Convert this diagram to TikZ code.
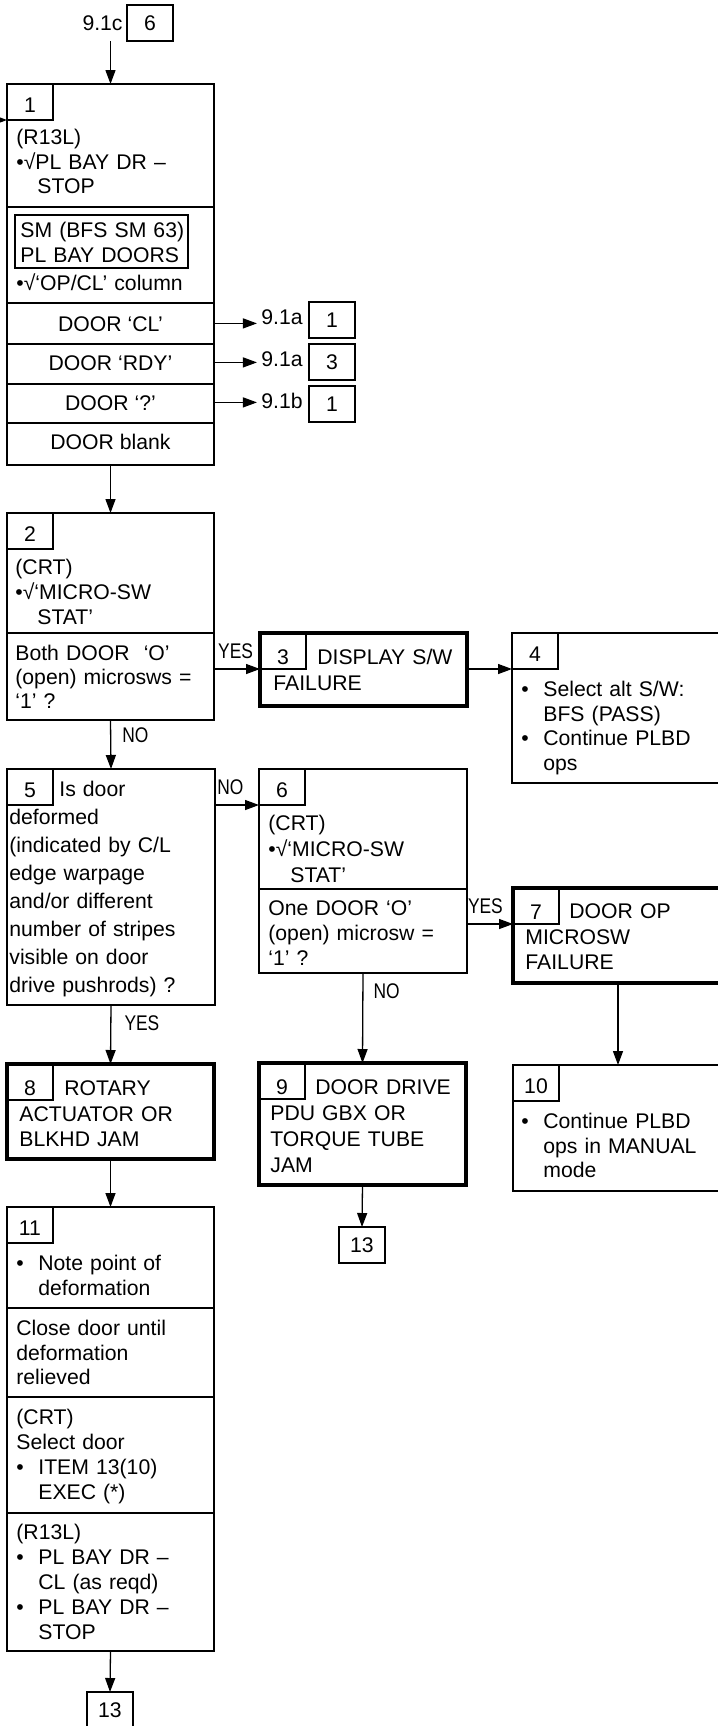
\documentclass[tikz,border=0pt]{standalone}
\usepackage{fontspec}
\setmainfont{Liberation Sans}
\newfontfamily\narrowfont[FakeStretch=0.82]{Liberation Sans}
\usetikzlibrary{arrows.meta}

\newcommand\bulitem{\makebox[11pt][l]{•}}
\newcommand\bulcont{\hspace*{11pt}}

\tikzset{
  every node/.style={font=\fontsize{10.6}{12.25}\selectfont},
  box/.style={draw, rectangle, line width=1pt, anchor=north west, outer sep=0pt, inner sep=0pt},
  boldbox/.style={box, line width=2.1pt},
  tab/.style={draw, rectangle, line width=0.7pt, anchor=north west, outer sep=0pt, inner sep=0pt,
    minimum width=23pt, minimum height=18pt, text height=10.1pt, text depth=0pt},
  boldtab/.style={tab, text height=13.6pt},
  refbox/.style={tab, line width=0.8pt, text height=7.6pt},
  txt/.style={anchor=base west, inner sep=0pt, align=left, text width=100pt},
  rowtxt/.style={anchor=base, inner sep=0pt, text height=7.6pt, text depth=0pt},
  reflbl/.style={anchor=base east, inner sep=2pt},
  yesno/.style={font=\narrowfont\fontsize{10.6}{12}\selectfont, inner sep=0pt, text height=7.6pt, text depth=0pt},
  sep/.style={line width=0.75pt},
  arr/.style={-{Triangle[length=7pt,width=5pt]}, line width=0.65pt},
}

\begin{document}
\begin{tikzpicture}[x=0.5pt, y=-0.5pt]
  \useasboundingbox (0,0) rectangle (718,1726);

  % entry from 9.1c
  \node[reflbl, inner sep=0pt] (e0) at (123,30) {9.1c};
  \node[refbox] (k0) at (127,5) {6};
  \coordinate (offpage) at (-40,120);

  % block 1
  \node[box, minimum width=103.5pt, minimum height=190.5pt] (b1) at (7,84) {};
  \node[tab] (t1) at (b1.north west) {1};
  \draw[arr] (b1.north |- k0.south) -- (b1.north);
  \draw[arr] (offpage) -- (t1.south west);
  \node[txt] (b1a) at (16,144.5) {(R13L)\\•√PL BAY DR –\\\hspace*{10.5pt}STOP};
  \draw[sep] (b1.west |- 0,207) -- (b1.east |- 0,207);
  \node[box, line width=0.7pt, minimum width=86.5pt, minimum height=26.5pt] (sm) at (15,215) {};
  \node[txt] (b1b) at (20,237.5) {SM (BFS SM 63)\\PL BAY DOORS};
  \node[txt] (b1c) at (16,290) {•√‘OP/CL’ column};
  \foreach \y in {303,344,384,423}
    \draw[sep] (b1.west |- 0,\y) -- (b1.east |- 0,\y);
  \node[rowtxt] (r1) at (110.5,331) {DOOR ‘CL’};
  \node[rowtxt] (r2) at (110.5,370) {DOOR ‘RDY’};
  \node[rowtxt] (r3) at (110.5,410) {DOOR ‘?’};
  \node[rowtxt] (r4) at (110.5,449) {DOOR blank};
  \foreach \i/\y/\lbl/\n in {1/302/9.1a/1, 2/344/9.1a/3, 3/386/9.1b/1} {
    \node[refbox] (k\i) at (309,\y) {\n};
    \node[reflbl] (g\i) at (307,\y+22) {\lbl};
    \draw[arr] (b1.east |- r\i) -- (g\i.west |- r\i);
  }

  % block 2
  \node[box, minimum width=103.5pt, minimum height=103.5pt] (b2) at (7,513) {};
  \node[tab] (t2) at (b2.north west) {2};
  \draw[arr] (b1.south) -- (b2.north);
  \node[txt, font=\fontsize{10.6}{12.5}\selectfont] (b2a) at (15,574.5) {(CRT)\\•√‘MICRO-SW\\\hspace*{11pt}STAT’};
  \draw[sep] (b2.west |- 0,633) -- (b2.east |- 0,633);
  \node[txt, font=\fontsize{10.6}{12}\selectfont] (b2b) at (15,660.5) {Both DOOR\ \ ‘O’\\(open) microsws =\\‘1’ ?};

  % block 3
  \node[boldbox, minimum width=103.5pt, minimum height=36.5pt] (b3) at (260,633) {};
  \node[boldtab] (t3) at (b3.north west) {3};
  \draw[arr] (b2.east |- t3.south west) -- node[yesno, above=5pt, pos=0.47] (yes1) {YES} (t3.south west);
  \node[txt, font=\fontsize{10.6}{13}\selectfont] (b3a) at (273,664.5) {\hspace*{22pt}DISPLAY S/W\\FAILURE};

  % block 4
  \node[box, minimum width=105.5pt, minimum height=75pt] (b4) at (512,633) {};
  \node[tab] (t4) at (b4.north west) {4};
  \draw[arr] (b3.east |- t4.south west) -- (t4.south west);
  \node[txt] (b4a) at (521,696.5) {\bulitem Select alt S/W:\\\bulcont BFS (PASS)\\\bulitem Continue PLBD\\\bulcont ops};

  % block 5
  \node[box, minimum width=104pt, minimum height=118pt] (b5) at (7,769) {};
  \node[tab] (t5) at (b5.north west) {5};
  \draw[arr] (b2.south) -- node[yesno, right=5.5pt, pos=0.3] (no1) {NO} (b5.north);
  \node[txt, font=\fontsize{10.6}{14}\selectfont] (b5a) at (9,796.5) {\hspace*{25pt}Is door\\deformed\\(indicated by C/L\\edge warpage\\and/or different\\number of stripes\\visible on door\\drive pushrods) ?};

  % block 6
  \node[box, minimum width=104pt, minimum height=102pt] (b6) at (259,769) {};
  \node[tab] (t6) at (b6.north west) {6};
  \draw[arr] (b5.east |- t6.south west) -- node[yesno, above=5pt, pos=0.35] (no2) {NO} (t6.south west);
  \node[txt, font=\fontsize{10.6}{13}\selectfont] (b6a) at (268,830.5) {(CRT)\\•√‘MICRO-SW\\\hspace*{11pt}STAT’};
  \draw[sep] (b6.west |- 0,889) -- (b6.east |- 0,889);
  \node[txt, font=\fontsize{10.6}{12.5}\selectfont] (b6b) at (268,915.5) {One DOOR ‘O’\\(open) microsw =\\‘1’ ?};

  % block 7
  \node[boldbox, minimum width=105pt, minimum height=47.5pt] (b7) at (513,888) {};
  \node[boldtab] (t7) at (b7.north west) {7};
  \draw[arr] (b6.east |- t7.south west) -- node[yesno, above=5pt, pos=0.4] (yes2) {YES} (t7.south west);
  \node[txt, font=\fontsize{10.6}{12.75}\selectfont] (b7a) at (525,918.5) {\hspace*{22pt}DOOR OP\\MICROSW\\FAILURE};

  % block 8
  \node[boldbox, minimum width=103.5pt, minimum height=47.5pt] (b8) at (7,1064) {};
  \node[boldtab] (t8) at (b8.north west) {8};
  \draw[arr] (b5.south) -- node[yesno, right=6.5pt, pos=0.3] (yes3) {YES} (b8.north);
  \node[txt, font=\fontsize{10.6}{12.75}\selectfont] (b8a) at (19,1095.5) {\hspace*{22.5pt}ROTARY\\ACTUATOR OR\\BLKHD JAM};

  % block 9
  \node[boldbox, minimum width=103.5pt, minimum height=61pt] (b9) at (259,1063) {};
  \node[boldtab] (t9) at (b9.north west) {9};
  \draw[arr] (b6.south) -- node[yesno, right=5pt, pos=0.2] (no3) {NO} (b9.north);
  \node[txt, font=\fontsize{10.6}{13}\selectfont] (b9a) at (270,1094) {\hspace*{22.5pt}DOOR DRIVE\\PDU GBX OR\\TORQUE TUBE\\JAM};
  \node[refbox] (k4) at (339,1227) {13};
  \draw[arr] (b9.south) -- (k4.north);

  % block 10
  \node[box, minimum width=105pt, minimum height=63pt] (b10) at (513,1065) {};
  \node[tab] (t10) at (b10.north west) {10};
  \draw[arr] (b7.south) -- (b10.north);
  \node[txt] (b10a) at (521,1128.5) {\bulitem Continue PLBD\\\bulcont ops in MANUAL\\\bulcont mode};

  % block 11
  \node[box, minimum width=103.5pt, minimum height=222pt] (b11) at (7,1207) {};
  \node[tab] (t11) at (b11.north west) {11};
  \draw[arr] (b8.south) -- (b11.north);
  \node[txt] (b11a) at (16,1270.5) {\bulitem Note point of\\\bulcont deformation};
  \draw[sep] (b11.west |- 0,1308) -- (b11.east |- 0,1308);
  \node[txt] (b11b) at (16,1335.5) {Close door until\\deformation\\relieved};
  \draw[sep] (b11.west |- 0,1397) -- (b11.east |- 0,1397);
  \node[txt, font=\fontsize{10.6}{12.5}\selectfont] (b11c) at (16,1424.5) {(CRT)\\Select door\\\bulitem ITEM 13(10)\\\bulcont EXEC (*)};
  \draw[sep] (b11.west |- 0,1513) -- (b11.east |- 0,1513);
  \node[txt, font=\fontsize{10.6}{12.5}\selectfont] (b11d) at (16,1539.5) {(R13L)\\\bulitem PL BAY DR –\\\bulcont CL (as reqd)\\\bulitem PL BAY DR –\\\bulcont STOP};
  \node[refbox] (k5) at (87,1692) {13};
  \draw[arr] (b11.south) -- (k5.north);
\end{tikzpicture}
\end{document}
